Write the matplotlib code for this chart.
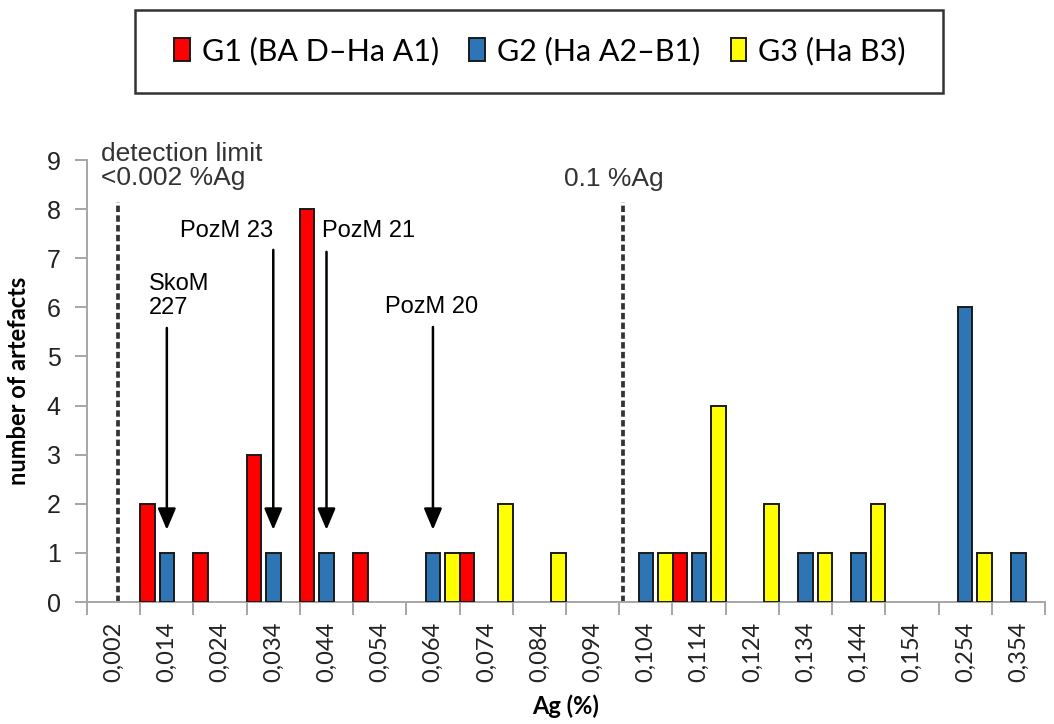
import matplotlib
matplotlib.use("Agg")
import matplotlib.pyplot as plt
from matplotlib.patches import Rectangle
import numpy as np

# categories (Ag %) and counts per group
labels = ['0,002', '0,014', '0,024', '0,034', '0,044', '0,054', '0,064', '0,074', '0,084',
          '0,094', '0,104', '0,114', '0,124', '0,134', '0,144', '0,154', '0,254', '0,354']
g1 = [0, 2, 1, 3, 8, 1, 0, 1, 0, 0, 0, 1, 0, 0, 0, 0, 0, 0]
g2 = [0, 1, 0, 1, 1, 0, 1, 0, 0, 0, 1, 1, 0, 1, 1, 0, 6, 1]
g3 = [0, 0, 0, 0, 0, 0, 1, 2, 1, 0, 1, 4, 2, 1, 2, 0, 1, 0]
series_names = ['G1 (BA D\u2013Ha A1)', 'G2 (Ha A2\u2013B1)', 'G3 (Ha B3)']
colors = ['#ff0000', '#2e75b6', '#ffff00']

# samples marked with arrows (category index -> label)
marked = [(1, 'SkoM\n227'), (3, 'PozM 23'), (4, 'PozM 21'), (6, 'PozM 20')]

GRAY = '#a6a6a6'
DARK = '#333333'

fig = plt.figure(figsize=(10.54, 7.24), dpi=100)
ax = fig.add_axes([87 / 1054, 1 - 602 / 724, (1045 - 87) / 1054, (602 - 160) / 724])

x = np.arange(len(labels))
offs = [-0.365, 0.0, 0.365]
width = 0.275
handles = []
for vals, off, c, name in zip([g1, g2, g3], offs, colors, series_names):
    vals = np.array(vals)
    m = vals > 0
    b = ax.bar(x[m] + off, vals[m], width=width, color=c, edgecolor='#1a1a1a',
               linewidth=1.4, label=name, zorder=3)
    handles.append(b)

# dashed reference lines
ax.vlines([0.08, 9.58], 0, 8.15, colors=DARK, linewidth=2.7,
          linestyles=(0, (1.7, 0.9)), zorder=2)
ax.text(-0.24, 9.36, 'detection limit\n<0.002 %Ag', fontsize=19, color=DARK,
        family='Liberation Sans', ha='left', va='top', linespacing=1.0)
ax.text(8.47, 8.86, '0.1 %Ag', fontsize=19, color=DARK,
        family='Liberation Sans', ha='left', va='top')

# arrows
txt_pos = {1: (0.67, 6.7), 3: (1.25, 7.78), 4: (3.92, 7.78), 6: (5.1, 6.24)}
arrow_top = {1: 5.58, 3: 7.17, 4: 7.13, 6: 5.6}
for i, name in marked:
    tip = g2[i] + 0.47
    ax.annotate('', xy=(i, tip), xytext=(i, arrow_top[i]),
                arrowprops=dict(arrowstyle='-|>,head_length=1.3,head_width=0.55',
                                color='black', lw=1.8, shrinkA=0, shrinkB=0))
    tx, ty = txt_pos[i]
    ax.text(tx, ty, name, fontsize=17, family='Liberation Sans', color='black',
            ha='left', va='top', linespacing=1.1)

ax.set_xlim(-0.5, len(labels) - 0.5)
ax.set_ylim(0, 9)
ax.set_yticks(range(10))
ax.tick_params(axis='y', direction='out', length=9, width=1.4, color=GRAY,
               labelsize=18, labelcolor='#222222', pad=10)
for t in ax.get_yticklabels():
    t.set_family('Liberation Sans')

ax.set_xticks(np.arange(len(labels) + 1) - 0.5)
ax.set_xticklabels([])
ax.tick_params(axis='x', which='major', direction='out', length=9, width=1.4, color=GRAY)
ax.set_xticks(x, minor=True)
ax.set_xticklabels(labels, minor=True, rotation=90, fontsize=17, family='Lato',
                   color='#222222')
ax.tick_params(axis='x', which='minor', length=0, pad=14)

for s in ['top', 'right']:
    ax.spines[s].set_visible(False)
for s in ['left', 'bottom']:
    ax.spines[s].set_color(GRAY)
    ax.spines[s].set_linewidth(1.4)

ax.set_ylabel('number of artefacts', fontsize=17, fontweight='bold', family='Lato', labelpad=12)
ax.set_xlabel('Ag (%)', fontsize=17, fontweight='bold', family='Lato', labelpad=9)

# legend with its own box
fig.patches.append(Rectangle((135 / 1054, 1 - 93 / 724), 808 / 1054, 83 / 724,
                             transform=fig.transFigure, fill=False,
                             edgecolor=DARK, linewidth=1.8))
leg = fig.legend(handles=handles, loc='center', bbox_to_anchor=(540 / 1054, 1 - 51 / 724),
                 ncol=3, frameon=False, prop={'family': 'Lato', 'size': 22},
                 handlelength=0.5, handleheight=0.75, handletextpad=0.4,
                 columnspacing=1.0)

fig.savefig('out.png', dpi=100)
